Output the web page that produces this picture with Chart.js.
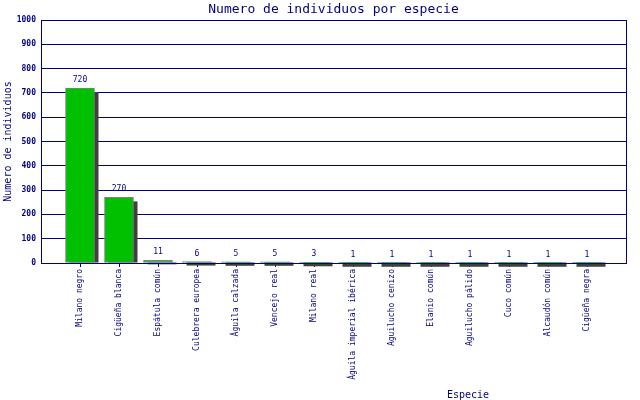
<!DOCTYPE html>
<html>
<head>
<meta charset="utf-8">
<script src="https://cdn.jsdelivr.net/npm/chart.js@4.4.1/dist/chart.umd.min.js"></script>
<style>
    html, body { margin: 0; padding: 0; background: #fff; }
</style>
</head>
<body>
<canvas id="chart" width="640" height="400"></canvas>
<script>
const species = [
    'Milano negro', 'Cigüeña blanca', 'Espátula común', 'Culebrera europea',
    'Águila calzada', 'Vencejo real', 'Milano real', 'Águila imperial ibérica',
    'Aguilucho cenizo', 'Elanio común', 'Aguilucho pálido', 'Cuco común',
    'Alcaudón común', 'Cigüeña negra'
];
const counts = [720, 270, 11, 6, 5, 5, 3, 1, 1, 1, 1, 1, 1, 1];
const yTicks = [0, 100, 200, 300, 400, 500, 600, 700, 800, 900, 1000];

const NAVY = '#000080';
const MONO = '"DejaVu Sans Mono", "Liberation Mono", monospace';

// blank slot at each end so the bars sit like the original (15 equal gaps)
const labels = ['', ...species, ''];
const values = [null, ...counts, null];

const decorPlugin = {
    id: 'decor',
    beforeDatasetsDraw(chart) {
        const ctx = chart.ctx;
        const meta = chart.getDatasetMeta(0);
        ctx.save();
        ctx.fillStyle = '#404040';
        meta.data.forEach((bar, i) => {
            if (values[i] == null) return;
            const { x, y, base, width } = bar.getProps(['x', 'y', 'base', 'width'], true);
            const y1 = y + 4;
            ctx.fillRect(x - width / 2 + 4, Math.min(y1, base), width, Math.abs(base - y1));
        });
        ctx.restore();
    },
    afterDatasetsDraw(chart) {
        const ctx = chart.ctx;
        const area = chart.chartArea;
        const meta = chart.getDatasetMeta(0);
        ctx.save();
        ctx.strokeStyle = NAVY;
        ctx.lineWidth = 1;
        ctx.strokeRect(Math.round(area.left) + 0.5, Math.round(area.top) + 0.5,
            Math.round(area.right - area.left), Math.round(area.bottom - area.top));

        ctx.fillStyle = NAVY;
        ctx.font = `8px ${MONO}`;
        ctx.textAlign = 'center';
        ctx.textBaseline = 'bottom';
        meta.data.forEach((bar, i) => {
            if (values[i] == null) return;
            ctx.fillText(String(values[i]), bar.x, bar.y - 4);
        });
        ctx.restore();
    },
    afterDraw(chart) {
        const ctx = chart.ctx;
        const area = chart.chartArea;
        ctx.save();
        ctx.fillStyle = NAVY;
        ctx.textAlign = 'center';
        ctx.textBaseline = 'alphabetic';
        ctx.font = `13px ${MONO}`;
        ctx.fillText('Numero de individuos por especie', (area.left + area.right) / 2, 13);

        ctx.font = `10px ${MONO}`;
        ctx.fillText('Especie', 468, 398);

        ctx.translate(11, (area.top + area.bottom) / 2);
        ctx.rotate(-Math.PI / 2);
        ctx.fillText('Numero de individuos', 0, 0);
        ctx.restore();
    }
};

new Chart(document.getElementById('chart'), {
    type: 'bar',
    data: {
        labels: labels,
        datasets: [{
            data: values,
            backgroundColor: '#00c000',
            borderColor: '#808080',
            borderWidth: 1,
            borderSkipped: false,
            barThickness: 29
        }]
    },
    options: {
        responsive: false,
        animation: false,
        layout: { padding: { top: 20, right: 14, left: 0, bottom: 0 } },
        plugins: {
            legend: { display: false },
            tooltip: { enabled: false }
        },
        scales: {
            x: {
                offset: false,
                afterFit: (scale) => { scale.height = 137; },
                border: { color: NAVY },
                grid: {
                    offset: false,
                    drawOnChartArea: false,
                    tickLength: 4,
                    tickColor: (c) => (labels[c.index] ? NAVY : 'rgba(0,0,0,0)')
                },
                ticks: {
                    autoSkip: false,
                    minRotation: 90,
                    maxRotation: 90,
                    padding: 2,
                    color: NAVY,
                    font: { family: MONO, size: 8 }
                }
            },
            y: {
                min: 0,
                max: 1000,
                afterFit: (scale) => { scale.width = 41; },
                afterBuildTicks: (scale) => { scale.ticks = yTicks.map((v) => ({ value: v })); },
                border: { color: NAVY },
                grid: { color: NAVY, drawTicks: false },
                ticks: {
                    padding: 5,
                    color: NAVY,
                    font: { family: MONO, size: 8, weight: 'bold' },
                    callback: (value) => String(value)
                }
            }
        }
    },
    plugins: [decorPlugin]
});
</script>
</body>
</html>
